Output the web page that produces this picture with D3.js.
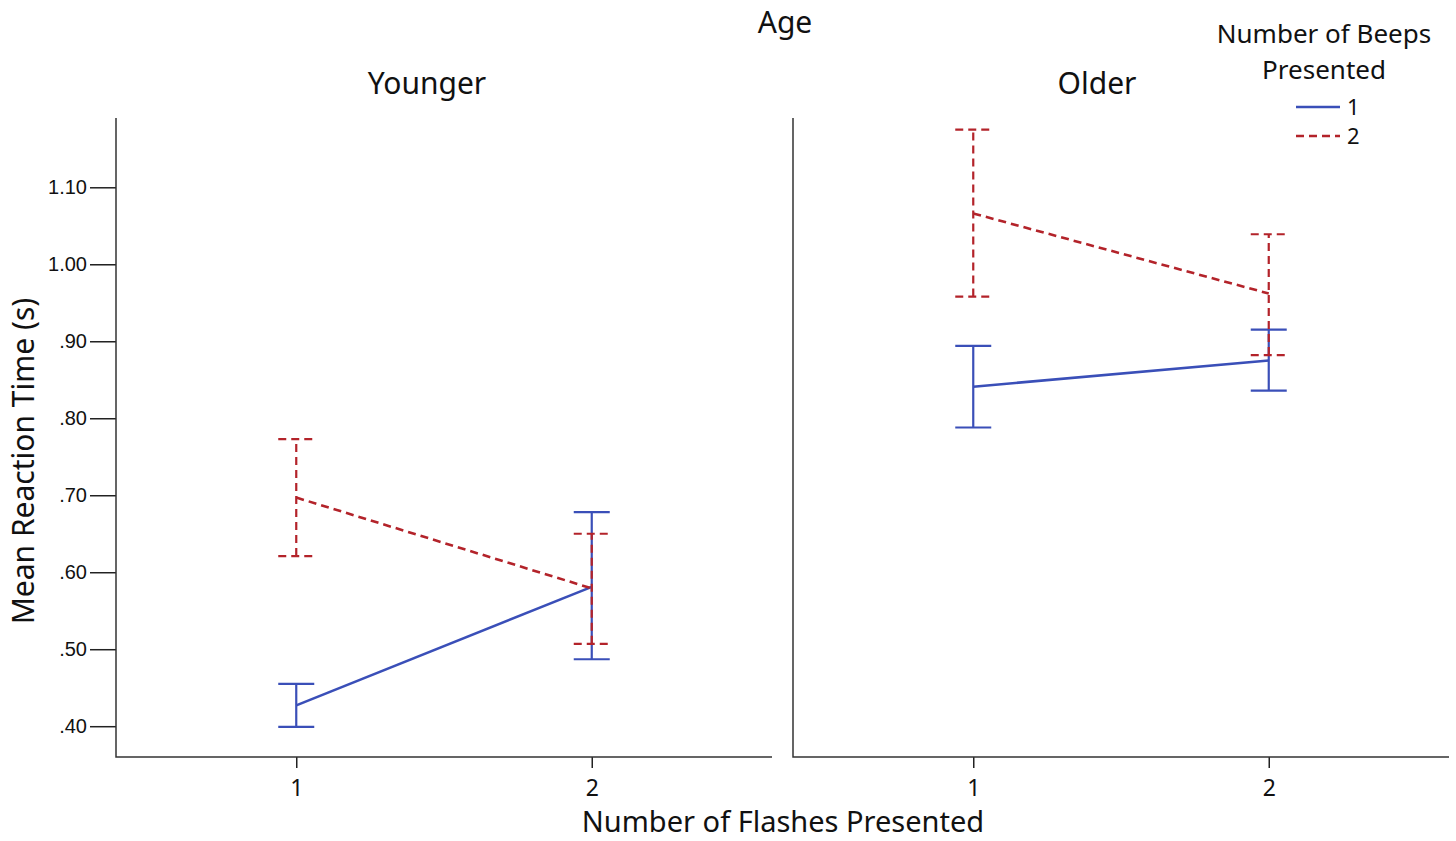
<!DOCTYPE html>
<html>
<head>
<meta charset="utf-8">
<script src="https://cdn.jsdelivr.net/npm/d3@7"></script>
<style>
  body { margin: 0; background: #fff; }
  text { fill: #111; }
</style>
</head>
<body>
<script>
// panels, series and tick labels
let panels = ["Younger", "Older"];
let flashes = [1, 2];
let beeps = ["1", "2"];
let yTicks = [0.40, 0.50, 0.60, 0.70, 0.80, 0.90, 1.00, 1.10];

// means and 95% CI per panel, series (beeps) -> [flash1, flash2]
let younger1 = [0.427, 0.581];
let younger1Lo = [0.399, 0.487];
let younger1Hi = [0.455, 0.678];
let younger2 = [0.697, 0.579];
let younger2Lo = [0.621, 0.507];
let younger2Hi = [0.773, 0.650];
let older1 = [0.841, 0.875];
let older1Lo = [0.788, 0.836];
let older1Hi = [0.894, 0.915];
let older2 = [1.066, 0.962];
let older2Lo = [0.958, 0.882];
let older2Hi = [1.175, 1.039];

let svgWidth = 1456;
let svgHeight = 841;

let colors = { "1": "#3a4fb8", "2": "#b3232a" };
let dashes = { "1": null, "2": "8,5" };

let svg = d3.select("body")
  .append("svg")
  .attr("width", svgWidth)
  .attr("height", svgHeight);

// panel layout
let panelLeft = [116, 793];
let panelWidth = 656;
let titleOffset = [311, 304];
let plotTop = 118;
let plotBottom = 757;

let y = d3.scaleLinear().domain([0.36, 1.19]).range([plotBottom, plotTop]);
let x = d3.scaleLinear().domain([0.39, 2.61]).range([0, panelWidth]);

let series = {
  Younger: [
    { beep: "1", m: younger1, lo: younger1Lo, hi: younger1Hi },
    { beep: "2", m: younger2, lo: younger2Lo, hi: younger2Hi }
  ],
  Older: [
    { beep: "1", m: older1, lo: older1Lo, hi: older1Hi },
    { beep: "2", m: older2, lo: older2Lo, hi: older2Hi }
  ]
};

let line = d3.line()
  .x(d => x(d.f))
  .y(d => y(d.v));

let font = "Noto Sans, sans-serif";

panels.forEach(function (p, pi) {
  let g = svg.append("g")
    .attr("transform", `translate(${panelLeft[pi]}, 0)`);

  // y axis
  let yAxis = d3.axisLeft(y)
    .tickValues(pi === 0 ? yTicks : [])
    .tickSize(pi === 0 ? 26 : 0)
    .tickPadding(3)
    .tickFormat(d => d >= 1 ? d3.format(".2f")(d) : d3.format(".2f")(d).replace(/^0/, ""));
  let ya = g.append("g").call(yAxis);
  ya.select(".domain").remove();
  ya.selectAll("line").attr("stroke", "#222").attr("stroke-width", 1.5);
  ya.selectAll("text")
    .style("font-family", "Liberation Sans, Arial, sans-serif")
    .style("font-size", "20px")
    .attr("fill", "#111");

  // x axis
  let xAxis = d3.axisBottom(x)
    .tickValues(flashes)
    .tickSize(11)
    .tickPadding(12)
    .tickFormat(d3.format("d"));
  let xa = g.append("g")
    .attr("transform", `translate(0, ${plotBottom})`)
    .call(xAxis);
  xa.select(".domain").remove();
  xa.selectAll("line").attr("stroke", "#222").attr("stroke-width", 1.5);
  xa.selectAll("text")
    .style("font-family", font)
    .style("font-size", "23px")
    .attr("fill", "#111");

  // frame lines (left and bottom)
  g.append("path")
    .attr("d", `M0,${plotTop}V${plotBottom}H${panelWidth}`)
    .attr("fill", "none")
    .attr("stroke", "#333")
    .attr("stroke-width", 1.5);

  // panel title
  g.append("text")
    .attr("x", titleOffset[pi])
    .attr("y", 94)
    .attr("text-anchor", "middle")
    .style("font-family", font)
    .style("font-size", "30px")
    .text(p);

  let capHalf = 18;
  series[p].forEach(function (s) {
    let pts = flashes.map((f, i) => ({ f: f, v: s.m[i] }));
    let col = colors[s.beep];

    g.append("path")
      .attr("d", line(pts))
      .attr("fill", "none")
      .attr("stroke", col)
      .attr("stroke-width", 2.6)
      .attr("stroke-dasharray", dashes[s.beep]);

    flashes.forEach(function (f, i) {
      let cx = x(f);
      let eb = g.append("g");
      eb.append("line")
        .attr("x1", cx).attr("x2", cx)
        .attr("y1", y(s.lo[i])).attr("y2", y(s.hi[i]));
      [s.lo[i], s.hi[i]].forEach(function (v) {
        eb.append("line")
          .attr("x1", cx - capHalf).attr("x2", cx + capHalf)
          .attr("y1", y(v)).attr("y2", y(v));
      });
      eb.selectAll("line")
        .attr("stroke", col)
        .attr("stroke-width", 2.2)
        .attr("stroke-dasharray", dashes[s.beep]);
    });
  });
});

// overall titles
svg.append("text")
  .attr("x", 785).attr("y", 33)
  .attr("text-anchor", "middle")
  .style("font-family", font).style("font-size", "30px")
  .text("Age");

svg.append("text")
  .attr("x", 783).attr("y", 832)
  .attr("text-anchor", "middle")
  .style("font-family", font).style("font-size", "29px")
  .text("Number of Flashes Presented");

svg.append("text")
  .attr("transform", "translate(34, 461) rotate(-90)")
  .attr("text-anchor", "middle")
  .style("font-family", font).style("font-size", "30px")
  .text("Mean Reaction Time (s)");

// legend
let legend = svg.append("g");
legend.append("text")
  .attr("x", 1324).attr("y", 43)
  .attr("text-anchor", "middle")
  .style("font-family", font).style("font-size", "26px")
  .text("Number of Beeps");
legend.append("text")
  .attr("x", 1324).attr("y", 79)
  .attr("text-anchor", "middle")
  .style("font-family", font).style("font-size", "26px")
  .text("Presented");

beeps.forEach(function (b, i) {
  let ly = 107 + i * 29;
  legend.append("line")
    .attr("x1", 1296).attr("x2", 1340)
    .attr("y1", ly).attr("y2", ly)
    .attr("stroke", colors[b])
    .attr("stroke-width", 2.6)
    .attr("stroke-dasharray", dashes[b]);
  legend.append("text")
    .attr("x", 1347).attr("y", ly + 8)
    .style("font-family", font).style("font-size", "22px")
    .text(b);
});
</script>
</body>
</html>
